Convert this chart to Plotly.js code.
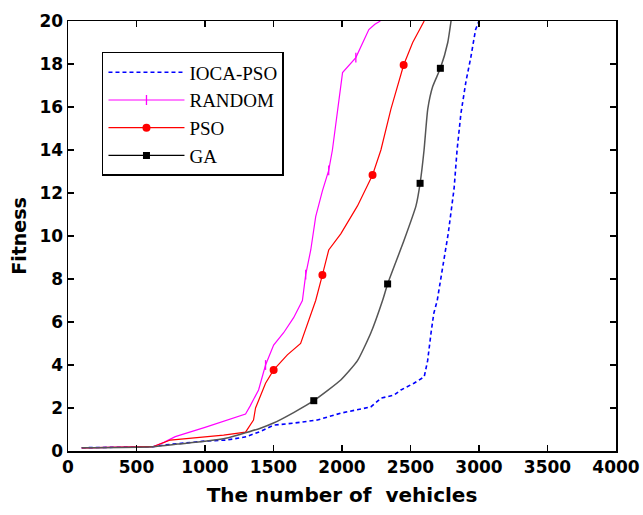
<!DOCTYPE html>
<html>
<head>
<meta charset="utf-8">
<script src="https://cdn.plot.ly/plotly-3.0.1.min.js"></script>
<style>html,body{margin:0;padding:0;background:#fff;}#chart{width:643px;height:515px;}</style>
</head>
<body>
<div id="chart"></div>
<script>
// ---- data ----
const seriesNames = ["IOCA-PSO", "RANDOM", "PSO", "GA"];

const iocaX = [100, 620, 700, 800, 915, 1000, 1160, 1300, 1400, 1500, 1650, 1820, 1990, 2160, 2210, 2285, 2380, 2430, 2525, 2600, 2625, 2650, 2670, 2695, 2735, 2775, 2818, 2840, 2868, 2885, 2905, 2940, 2975, 3000];
const iocaY = [0.15, 0.2, 0.28, 0.35, 0.43, 0.46, 0.51, 0.66, 0.9, 1.2, 1.3, 1.44, 1.76, 2.0, 2.05, 2.46, 2.6, 2.84, 3.15, 3.45, 4.2, 5.5, 6.4, 7.0, 8.6, 10.1, 12.2, 14.0, 15.7, 16.5, 17.2, 18.3, 19.6, 20];

const randomX = [100, 620, 700, 783, 1000, 1296, 1330, 1391, 1442, 1501, 1574, 1647, 1711, 1735, 1772, 1808, 1857, 1903, 1930, 2004, 2101, 2196, 2240, 2280];
const randomY = [0.15, 0.2, 0.4, 0.67, 1.1, 1.72, 2.1, 2.84, 4.0, 4.93, 5.5, 6.2, 7.0, 8.2, 9.35, 10.9, 12.1, 13.05, 14.0, 17.6, 18.3, 19.6, 19.85, 20];
const randomMarkIdx = [8, 13, 17, 20];

const psoX = [100, 620, 747, 1136, 1296, 1354, 1369, 1442, 1501, 1601, 1698, 1757, 1808, 1857, 1903, 1991, 2113, 2223, 2284, 2357, 2450, 2516, 2600];
const psoY = [0.15, 0.2, 0.51, 0.74, 0.88, 1.44, 2.0, 3.15, 3.77, 4.47, 5.0, 6.1, 7.0, 8.19, 9.35, 10.1, 11.4, 12.84, 14.0, 15.9, 17.95, 19.0, 20];
const psoMarkIdx = [8, 13, 17, 20];

const gaX = [100, 620, 800, 1000, 1160, 1260, 1400, 1500, 1650, 1794, 1991, 2113, 2211, 2296, 2333, 2453, 2540, 2570, 2599, 2626, 2662, 2718, 2772, 2796];
const gaY = [0.15, 0.2, 0.32, 0.45, 0.6, 0.78, 1.05, 1.3, 1.8, 2.34, 3.3, 4.2, 5.5, 7.0, 7.77, 9.8, 11.4, 12.45, 14.0, 15.9, 16.95, 17.8, 19.0, 20];
const gaMarkIdx = [9, 14, 17, 21];

const xTicks = [0, 500, 1000, 1500, 2000, 2500, 3000, 3500, 4000];
const yTicks = [0, 2, 4, 6, 8, 10, 12, 14, 16, 18, 20];

// ---- styles ----
const colBlue = "#0000ff", colMag = "#ff00ff", colRed = "#ff0000", colGA = "#555555";
const pick = (arr, idx) => idx.map(i => arr[i]);

const traces = [
  {x: iocaX, y: iocaY, mode: "lines", line: {color: colBlue, width: 1.6, dash: "4px,3px"}, showlegend: false},
  {x: randomX, y: randomY, mode: "lines", line: {color: colMag, width: 1.2}, showlegend: false},
  {x: pick(randomX, randomMarkIdx), y: pick(randomY, randomMarkIdx), mode: "markers", marker: {symbol: "line-ns", size: 7, line: {color: colMag, width: 1.3}}, showlegend: false},
  {x: psoX, y: psoY, mode: "lines", line: {color: colRed, width: 1.2}, showlegend: false},
  {x: pick(psoX, psoMarkIdx), y: pick(psoY, psoMarkIdx), mode: "markers", marker: {symbol: "circle", size: 8, color: colRed}, showlegend: false},
  {x: gaX, y: gaY, mode: "lines", line: {color: colGA, width: 1.5, shape: "spline", smoothing: 0.5}, showlegend: false},
  {x: pick(gaX, gaMarkIdx), y: pick(gaY, gaMarkIdx), mode: "markers", marker: {symbol: "square", size: 7, color: "#000"}, showlegend: false},
  // legend entries
  {x: [null], y: [null], name: seriesNames[0], mode: "lines", line: {color: colBlue, width: 1.6, dash: "4px,3px"}},
  {x: [null], y: [null], name: seriesNames[1], mode: "lines+markers", line: {color: colMag, width: 1.2}, marker: {symbol: "line-ns", size: 7, line: {color: colMag, width: 1.3}}},
  {x: [null], y: [null], name: seriesNames[2], mode: "lines+markers", line: {color: colRed, width: 1.2}, marker: {symbol: "circle", size: 8, color: colRed}},
  {x: [null], y: [null], name: seriesNames[3], mode: "lines+markers", line: {color: "#000", width: 1.2}, marker: {symbol: "square", size: 7, color: "#000"}}
];

const axFont = {family: "DejaVu Sans", size: 17, color: "#000", weight: "bold"};

const layout = {
  width: 643, height: 515,
  margin: {l: 68, r: 27, t: 21, b: 64},
  paper_bgcolor: "#fff", plot_bgcolor: "#fff",
  showlegend: true,
  legend: {
    x: 0.062, y: 0.928, xanchor: "left", yanchor: "top",
    bgcolor: "#fff", bordercolor: "#000", borderwidth: 1.5,
    font: {family: "Liberation Serif", size: 19, color: "#000"},
    itemwidth: 76, tracegroupgap: 0
  },
  xaxis: {
    range: [0, 4000], tickvals: xTicks, ticktext: xTicks.map(String),
    ticks: "inside", ticklen: 6, tickwidth: 1.2, tickcolor: "#000",
    showline: true, linecolor: "#000", linewidth: 1.5, mirror: "ticks",
    showgrid: false, zeroline: false, tickfont: axFont,
    title: {text: "The number of  vehicles", font: {family: "DejaVu Sans", size: 20, color: "#000", weight: "bold"}, standoff: 12}
  },
  yaxis: {
    range: [0, 20], tickvals: yTicks, ticktext: yTicks.map(String),
    ticks: "inside", ticklen: 6, tickwidth: 1.2, tickcolor: "#000",
    showline: true, linecolor: "#000", linewidth: 1.5, mirror: "ticks",
    showgrid: false, zeroline: false, tickfont: axFont,
    title: {text: "Fitness", font: {family: "DejaVu Sans", size: 19, color: "#000", weight: "bold"}, standoff: 8}
  }
};

Plotly.newPlot("chart", traces, layout, {displayModeBar: false, staticPlot: true});
</script>
</body>
</html>
